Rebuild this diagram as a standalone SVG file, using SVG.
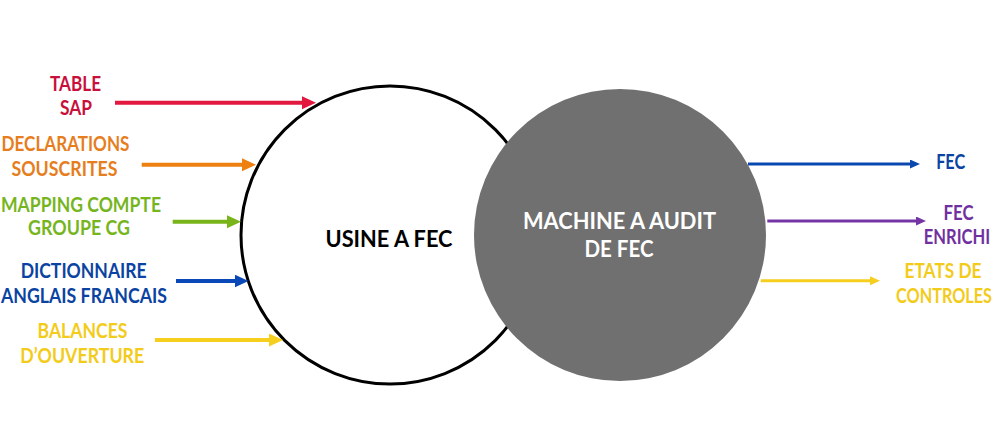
<svg xmlns="http://www.w3.org/2000/svg" width="1000" height="438" viewBox="0 0 1000 438">
<style>
text{font-family:Lato,"Open Sans","Liberation Sans",sans-serif;font-weight:bold;text-anchor:middle}
.lbl{font-size:20px}
.big{font-size:23px}
.red{fill:#C8103C}.org{fill:#E67E1E}.grn{fill:#76B51E}.blu{fill:#0B43A2}.yel{fill:#F3CB1A}.pur{fill:#7030A0}
.c{fill:none;stroke-linecap:butt}
.L{stroke-width:4}.R{stroke-width:3}
</style>
<defs>
<marker id="mRed" markerUnits="userSpaceOnUse" markerWidth="15" markerHeight="14" refX="1" refY="6.5" orient="auto"><path d="M0,0L14,6.5L0,13z" fill="#E2183E"/></marker>
<marker id="mOrg" markerUnits="userSpaceOnUse" markerWidth="15" markerHeight="14" refX="1" refY="6.5" orient="auto"><path d="M0,0L14,6.5L0,13z" fill="#EE8012"/></marker>
<marker id="mGrn" markerUnits="userSpaceOnUse" markerWidth="15" markerHeight="14" refX="1" refY="6.5" orient="auto"><path d="M0,0L14,6.5L0,13z" fill="#78B41A"/></marker>
<marker id="mBlu" markerUnits="userSpaceOnUse" markerWidth="15" markerHeight="14" refX="1" refY="6.5" orient="auto"><path d="M0,0L14,6.5L0,13z" fill="#0A48B8"/></marker>
<marker id="mYel" markerUnits="userSpaceOnUse" markerWidth="15" markerHeight="14" refX="1" refY="6.5" orient="auto"><path d="M0,0L14,6.5L0,13z" fill="#F5CE1E"/></marker>
<marker id="sBlu" markerUnits="userSpaceOnUse" markerWidth="11" markerHeight="10" refX="1" refY="4.5" orient="auto"><path d="M0,0L10,4.5L0,9z" fill="#0A48B0"/></marker>
<marker id="sPur" markerUnits="userSpaceOnUse" markerWidth="11" markerHeight="10" refX="1" refY="4.5" orient="auto"><path d="M0,0L10,4.5L0,9z" fill="#7434A4"/></marker>
<marker id="sYel" markerUnits="userSpaceOnUse" markerWidth="11" markerHeight="10" refX="1" refY="4.5" orient="auto"><path d="M0,0L10,4.5L0,9z" fill="#F5CE1E"/></marker>
</defs>

<g id="usine">
<circle cx="390" cy="235" r="149" fill="#FFFFFF" stroke="#000000" stroke-width="3"/>
<text class="big" x="389" y="247" fill="#000000" textLength="127" lengthAdjust="spacingAndGlyphs">USINE A FEC</text>
</g>
<g id="machine">
<circle cx="620" cy="235" r="146" fill="#707070"/>
<text class="big" x="619.5" y="229" fill="#FFFFFF" textLength="193" lengthAdjust="spacingAndGlyphs">MACHINE A AUDIT</text>
<text class="big" x="619" y="257" fill="#FFFFFF" textLength="69" lengthAdjust="spacingAndGlyphs">DE FEC</text>
</g>

<g id="in-table-sap" class="lbl red">
<text x="75.5" y="90.5" textLength="51" lengthAdjust="spacingAndGlyphs">TABLE</text>
<text x="76" y="115" textLength="32" lengthAdjust="spacingAndGlyphs">SAP</text>
</g>
<g id="in-declarations" class="lbl org">
<text x="65.5" y="150.5" textLength="128" lengthAdjust="spacingAndGlyphs">DECLARATIONS</text>
<text x="64.5" y="175.5" textLength="106" lengthAdjust="spacingAndGlyphs">SOUSCRITES</text>
</g>
<g id="in-mapping" class="lbl grn">
<text x="81" y="211.5" textLength="160" lengthAdjust="spacingAndGlyphs">MAPPING COMPTE</text>
<text x="79" y="235" textLength="102" lengthAdjust="spacingAndGlyphs">GROUPE CG</text>
</g>
<g id="in-dictionnaire" class="lbl blu">
<text x="83.7" y="278.3" textLength="126" lengthAdjust="spacingAndGlyphs">DICTIONNAIRE</text>
<text x="84" y="302.7" textLength="166" lengthAdjust="spacingAndGlyphs">ANGLAIS FRANCAIS</text>
</g>
<g id="in-balances" class="lbl yel">
<text x="82.5" y="338.3" textLength="90" lengthAdjust="spacingAndGlyphs">BALANCES</text>
<text x="82.2" y="363.3" textLength="124" lengthAdjust="spacingAndGlyphs">D’OUVERTURE</text>
</g>

<g id="out-fec" class="lbl blu">
<text x="950.7" y="169.3" textLength="29" lengthAdjust="spacingAndGlyphs">FEC</text>
</g>
<g id="out-fec-enrichi" class="lbl pur">
<text x="958.5" y="220" textLength="30" lengthAdjust="spacingAndGlyphs">FEC</text>
<g transform="translate(957,244) scale(0.8,1)"><text x="0" y="0" textLength="83" lengthAdjust="spacingAndGlyphs">ENRICHI</text></g>
</g>
<g id="out-etats" class="lbl yel">
<text x="943" y="278.3" textLength="77" lengthAdjust="spacingAndGlyphs">ETATS DE</text>
<g transform="translate(944,303.3) scale(0.8,1)"><text x="0" y="0" textLength="120" lengthAdjust="spacingAndGlyphs">CONTROLES</text></g>
</g>

<g id="connectors" class="c">
<line class="L" x1="115" y1="102.7" x2="303" y2="102.7" stroke="#E2183E" marker-end="url(#mRed)"/>
<line class="L" x1="141.7" y1="164.7" x2="243" y2="164.7" stroke="#EE8012" marker-end="url(#mOrg)"/>
<line class="L" x1="172.7" y1="221.7" x2="228" y2="221.7" stroke="#78B41A" marker-end="url(#mGrn)"/>
<line class="L" x1="176" y1="281" x2="235.5" y2="281" stroke="#0A48B8" marker-end="url(#mBlu)"/>
<line class="L" x1="155" y1="340" x2="270" y2="340" stroke="#F5CE1E" marker-end="url(#mYel)"/>
<line class="R" x1="748" y1="164" x2="911" y2="164" stroke="#0A48B0" marker-end="url(#sBlu)"/>
<line class="R" x1="767.3" y1="221" x2="917" y2="221" stroke="#7434A4" marker-end="url(#sPur)"/>
<line class="R" x1="760.7" y1="280.7" x2="871" y2="280.7" stroke="#F5CE1E" marker-end="url(#sYel)"/>
</g>
</svg>
